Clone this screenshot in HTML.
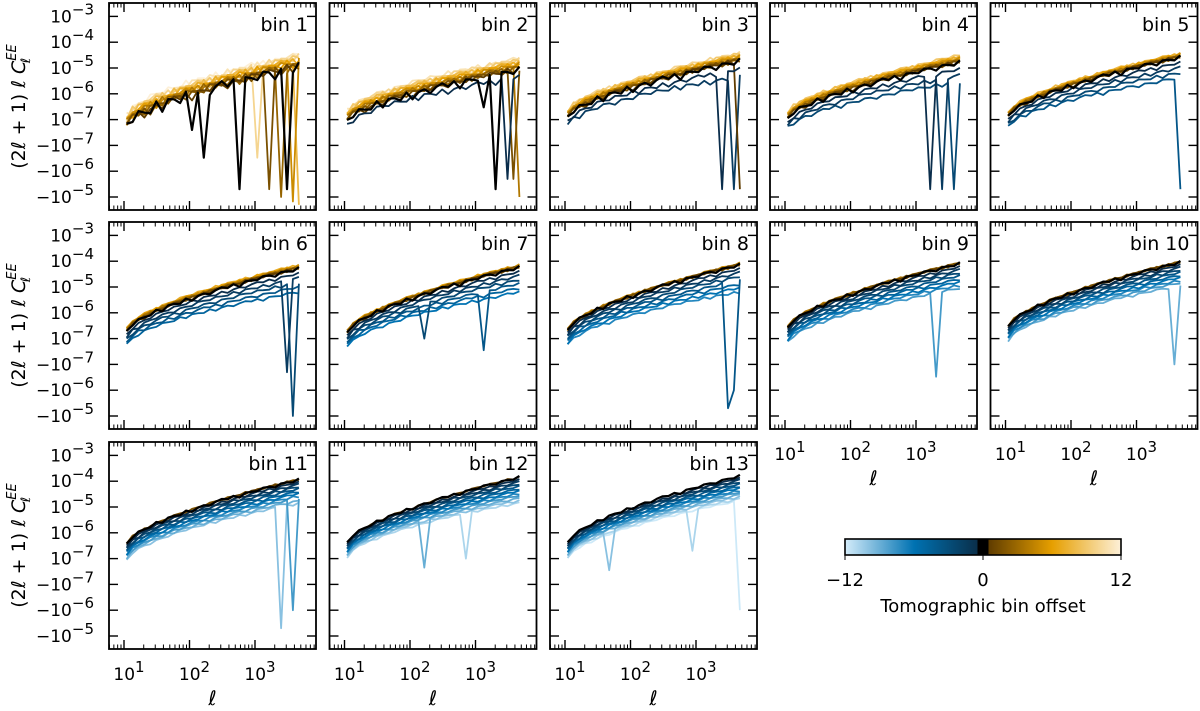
<!DOCTYPE html>
<html><head><meta charset="utf-8"><style>
body{margin:0;background:#fff;}
svg{display:block;font-family:"DejaVu Sans","Liberation Sans",sans-serif;}
</style></head><body>
<svg id="fig" width="1200" height="711" viewBox="0 0 1200 711"></svg>
<script>
// ---- data ----
const binLabels = ["bin 1","bin 2","bin 3","bin 4","bin 5","bin 6","bin 7","bin 8","bin 9","bin 10","bin 11","bin 12","bin 13"];
const startLog = [-7.3,-7.1,-6.95,-7.0,-6.9,-6.75,-6.8,-6.7,-6.6,-6.55,-6.45,-6.4,-6.4];
const endLog   = [-5.0,-5.1,-4.75,-4.8,-4.6,-4.3,-4.25,-4.15,-4.1,-4.05,-3.95,-3.85,-3.8];
const blueDropLo = [0.1,0.12,0.12,0.12,0.1,0.1,0.09,0.08,0.07,0.06,0.06,0.05,0.05];
const blueDropHi = [0.2,0.25,0.3,0.25,0.2,0.18,0.16,0.15,0.12,0.1,0.09,0.09,0.08];
const orangeLift = [0.04,0.04,0.03,0.03,0.02,0.02,0.015,0.01,0.01,0.01,0.01,0.01,0.01];
const noiseAmp = [0.45,0.3,0.25,0.2,0.18,0.15,0.15,0.14,0.13,0.12,0.12,0.1,0.1];
const noise = [0.3,-0.1,0.5,0.1,-0.2,0.6,-0.5,0.4,0.2,-0.3,0.5,-0.6,0.1,0.3,-0.4,0.2,0.5,-0.1,0.4,-0.7,0.3,0.1,-0.2,0.4,0.2,-0.5,0.3,0.1,-0.3,0.5];
// dips: [bin, offset, index, value]
const dips = [
 [1,0,13,-3e-7],[1,0,19,-5e-6],[1,0,27,-5e-6],[1,0,11,2e-8],[1,3,26,-1e-5],[1,5,28,-1.5e-5],[1,8,29,-2e-5],[1,2,24,-5e-6],[1,10,22,-3e-7],
 [2,0,25,-5e-6],[2,0,23,3e-7],[2,-1,27,-2e-6],[2,4,29,-1e-5],[2,2,28,-2e-6],
 [3,-1,26,-5e-6],[3,-2,28,-5e-6],[3,1,29,-5e-6],
 [4,-1,24,-5e-6],[4,-2,26,-5e-6],[4,-3,28,-5e-6],
 [5,-4,29,-5e-6],
 [6,-3,28,-1e-5],[6,-2,27,-2e-7],
 [7,-3,13,1e-7],[7,-4,23,1e-8],
 [8,-4,27,-5e-6],[8,-4,28,-1e-6],
 [9,-8,25,-3e-7],
 [10,-9,28,-1e-7],
 [11,-10,26,-5e-6],[11,-8,28,-1e-6],
 [12,-9,13,3e-8],[12,-11,20,1e-7],
 [13,-12,29,-1e-6],[13,-11,21,2e-7],[13,-10,7,1e-8]
];
const xTickLabels = ["1","2","3"];
const yTickVals = [1e-3,1e-4,1e-5,1e-6,1e-7,-1e-7,-1e-6,-1e-5];
const yTickExp = ["−3","−4","−5","−6","−7","−7","−6","−5"];
const cbTicks = [-12,0,12];

const NS="http://www.w3.org/2000/svg";
const svg=document.getElementById('fig');
function el(tag,attrs,parent){const e=document.createElementNS(NS,tag);for(const k in attrs)e.setAttribute(k,attrs[k]);(parent||svg).appendChild(e);return e;}

const colL=[109,329.5,550,770,990.5], rowT=[3,222,442], W=207, H=207;
const NPTS=30;
function xPos(L,lg){return L+15+(lg-1)*65.5;}
function sym(v){const a=Math.abs(v);if(a<1e-7)return v/1e-7*0.5;return Math.sign(v)*(Math.log10(a)+7.5);}
function yPos(T,v){return T+129.5-sym(v)*25.8;}

function lerpC(c1,c2,t){return 'rgb('+c1.map((c,i)=>Math.round(c+(c2[i]-c)*t)).join(',')+')';}
function color(k){
 if(k===0)return '#000';
 const a=Math.abs(k);
 if(k<0){ if(a<=6) return lerpC([10,45,75],[0,114,178],(a-1)/5); return lerpC([0,114,178],[205,233,248],(a-6)/6);}
 if(a<=6) return lerpC([95,60,0],[230,159,0],(a-1)/5); return lerpC([230,159,0],[253,240,216],(a-6)/6);
}

for(let b=1;b<=13;b++){
 const p=b-1, L=colL[p%5], T=rowT[Math.floor(p/5)];
 const g=el('g',{});
 
 
 const offs=[];for(let k=1-b;k<=13-b;k++)offs.push(k);
 offs.sort((a,c)=>Math.abs(c)-Math.abs(a)||c-a);
 const clipId='c'+b;
 const cp=el('clipPath',{id:clipId},g);el('rect',{x:L,y:T,width:W,height:H},cp);
 for(const k of offs){
  const pts=[];
  for(let i=0;i<NPTS;i++){
   const t=i/(NPTS-1);
   let lg=startLog[p]+(endLog[p]-startLog[p])*Math.pow(t,0.65);
   if(k<0)lg-=(-k)*(blueDropLo[p]+(blueDropHi[p]-blueDropLo[p])*t);
   if(k>0)lg+=k*orangeLift[p];
   const ni=k===0?i:(i+7*(k+13))%NPTS;
   lg+=noise[ni]*noiseAmp[p]*(k===0?1:0.7);
   let v=Math.pow(10,lg);
   for(const d of dips)if(d[0]===b&&d[1]===k&&d[2]===i)v=d[3];
   const xl=1.04+i*(3.67-1.04)/(NPTS-1);
   pts.push(xPos(L,xl).toFixed(1)+','+yPos(T,v).toFixed(1));
  }
  const pl=el('polyline',{points:pts.join(' '),fill:'none',stroke:color(k),'stroke-width':k===0?2.2:1.8,'stroke-linejoin':'round','clip-path':'url(#'+clipId+')'},g);
  
  
 }
 el('rect',{x:L,y:T,width:W,height:H,fill:'none',stroke:'#000','stroke-width':1.8},g);
 for(let d=1;d<=3;d++){const x=xPos(L,d);el('line',{x1:x,x2:x,y1:T+H,y2:T+H-9,stroke:'#000','stroke-width':1.4},g);el('line',{x1:x,x2:x,y1:T,y2:T+9,stroke:'#000','stroke-width':1.4},g);}
 for(let d=0;d<=3;d++)for(let m=2;m<=9;m++){const lg=d+Math.log10(m);const x=xPos(L,lg);if(x<L||x>L+W)continue;el('line',{x1:x,x2:x,y1:T+H,y2:T+H-4.5,stroke:'#000','stroke-width':1},g);el('line',{x1:x,x2:x,y1:T,y2:T+4.5,stroke:'#000','stroke-width':1},g);}
 yTickVals.forEach(v=>{const y=yPos(T,v);el('line',{x1:L,x2:L+9,y1:y,y2:y,stroke:'#000','stroke-width':1.4},g);el('line',{x1:L+W,x2:L+W-9,y1:y,y2:y,stroke:'#000','stroke-width':1.4},g);});
 const bl=el('text',{x:L+W-8,y:T+28,'text-anchor':'end','font-size':19},g);bl.textContent=binLabels[p];
 
 
 if(p%5===0){
  yTickVals.forEach((v,j)=>{const y=yPos(T,v);const t=el('text',{x:L-15,y:y+6,'text-anchor':'end','font-size':17},g);
   t.innerHTML=(v<0?'−':'')+'10<tspan dy="-8" font-size="15">'+yTickExp[j]+'</tspan>';});
  const yl=el('text',{transform:'translate(25,'+(T+H/2)+') rotate(-90)','text-anchor':'middle','font-size':19},g);
  yl.innerHTML='(2<tspan font-style="italic">ℓ</tspan> + 1) <tspan font-style="italic">ℓ C</tspan><tspan font-style="italic" font-size="13" dy="-9">EE</tspan><tspan font-style="italic" font-size="13" dx="-19" dy="14">ℓ</tspan>';
  
  
 }
 if(b>=9){
  xTickLabels.forEach((e,j)=>{const t=el('text',{x:xPos(L,j+1)+5,y:T+H+31,'text-anchor':'middle','font-size':17},g);t.innerHTML='10<tspan dy="-8" font-size="15">'+e+'</tspan>';});
  const xl=el('text',{x:L+W/2,y:T+H+56,'text-anchor':'middle','font-size':20,'font-style':'italic'},g);xl.textContent='ℓ';
  
  
 }
}
const cb=el('g',{});


const defs=el('defs',{},cb);
const gr=el('linearGradient',{id:'cbg',x1:0,x2:1,y1:0,y2:0},defs);
[[0,'#d4ecfa'],[0.25,'#0072b2'],[0.48,'#0a2f4a'],[0.48,'#000'],[0.52,'#000'],[0.52,'#5f3c00'],[0.75,'#e69f00'],[1,'#fdf0d8']].forEach(s=>el('stop',{offset:s[0],'stop-color':s[1]},gr));
const cx0=845,cx1=1121;
el('rect',{x:cx0,y:539,width:cx1-cx0,height:16,fill:'url(#cbg)',stroke:'#000','stroke-width':1.6},cb);
cbTicks.forEach(v=>{const x=cx0+(v+12)/24*(cx1-cx0);el('line',{x1:x,x2:x,y1:555,y2:560,stroke:'#000'},cb);const t=el('text',{x:x,y:586,'text-anchor':'middle','font-size':18},cb);t.textContent=v<0?'−'+(-v):String(v);});
const ct=el('text',{x:(cx0+cx1)/2,y:612,'text-anchor':'middle','font-size':18},cb);ct.textContent='Tomographic bin offset';
</script>
</body></html>
